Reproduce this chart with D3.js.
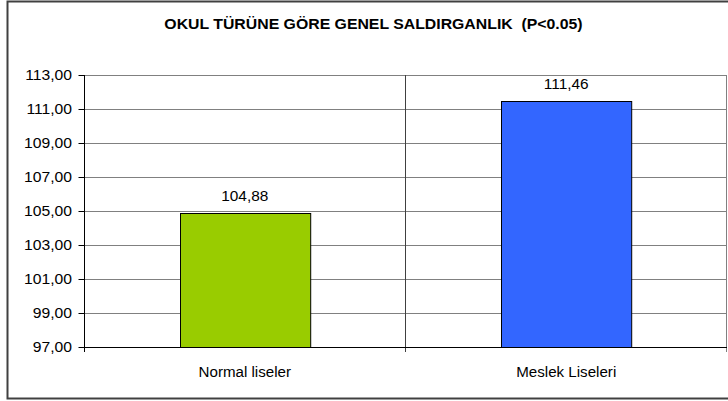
<!DOCTYPE html>
<html>
<head>
<meta charset="utf-8">
<script src="https://cdn.jsdelivr.net/npm/d3@7"></script>
<style>
  html, body { margin: 0; padding: 0; background: #fff; }
  svg { display: block; font-family: "Liberation Sans", Arial, sans-serif; }
  text { white-space: pre; }
</style>
</head>
<body>
<svg id="chart" width="728" height="401"></svg>
<script>
const title = "OKUL TÜRÜNE GÖRE GENEL SALDIRGANLIK  (P<0.05)";
const categories = ["Normal liseler", "Meslek Liseleri"];
const values = [104.88, 111.46];
const colors = ["#99CC00", "#3366FF"];
const yTicks = [97, 99, 101, 103, 105, 107, 109, 111, 113];
const yDomain = [97, 113];

const svg = d3.select("#chart");
const plot = { left: 84, right: 727, top: 75, bottom: 347 };

const fmt = v => d3.format(".2f")(v).replace(".", ",");
// the reference text is slightly stretched horizontally
function stretch(sel, k) {
  sel.each(function () {
    const len = this.getComputedTextLength();
    d3.select(this).attr("textLength", len * k).attr("lengthAdjust", "spacingAndGlyphs");
  });
}

// outer border
svg.append("rect")
  .attr("x", 7.5).attr("y", 1.5)
  .attr("width", 724).attr("height", 397)
  .attr("fill", "#fff").attr("stroke", "#404040").attr("stroke-width", 2);

const x = d3.scaleBand().domain(categories)
  .range([plot.left, plot.right])
  .paddingInner(0.595).paddingOuter(0.2975);
const xFull = d3.scaleBand().domain(categories).range([plot.left, plot.right]).padding(0);
const y = d3.scaleLinear().domain(yDomain).range([plot.bottom, plot.top]);

// gridlines
svg.append("g").selectAll("line").data(yTicks.slice(1)).join("line")
  .attr("x1", plot.left).attr("x2", plot.right)
  .attr("y1", d => Math.round(y(d)) + 0.5).attr("y2", d => Math.round(y(d)) + 0.5)
  .attr("stroke", "#808080").attr("stroke-width", 1);

// category separators (incl. right border) with tick below axis
const sepX = [xFull.range()[0], ...categories.slice(1).map(c => xFull(c)), xFull.range()[1]];
svg.append("g").selectAll("line").data(sepX.slice(1)).join("line")
  .attr("x1", d => Math.round(d) - 0.5).attr("x2", d => Math.round(d) - 0.5)
  .attr("y1", plot.top).attr("y2", plot.bottom + 5)
  .attr("stroke", (d, i) => i === sepX.length - 2 ? "#808080" : "#404040")
  .attr("stroke-width", 1);

// bars
svg.append("g").selectAll("rect").data(values).join("rect")
  .attr("x", (d, i) => Math.round(x(categories[i])) + 0.5)
  .attr("y", d => Math.round(y(d)) + 0.5)
  .attr("width", x.bandwidth())
  .attr("height", d => Math.round(y(yDomain[0])) - Math.round(y(d)))
  .attr("fill", (d, i) => colors[i])
  .attr("stroke", "#000").attr("stroke-width", 1);

// value labels
svg.append("g").selectAll("text").data(values).join("text")
  .attr("x", (d, i) => x(categories[i]) + x.bandwidth() / 2)
  .attr("y", d => y(d) - 12.5)
  .attr("text-anchor", "middle")
  .attr("font-size", 14)
  .attr("fill", "#000")
  .text(d => fmt(d))
  .call(stretch, 1.1);

// y axis
const yAxis = d3.axisLeft(y).tickValues(yTicks).tickSize(6).tickPadding(6.5).tickFormat(fmt);
const gy = svg.append("g").attr("transform", `translate(${plot.left + 0.5},0)`).call(yAxis);
gy.select(".domain").remove();
gy.selectAll(".tick line").attr("stroke", "#000");
gy.selectAll(".tick text").attr("font-size", 14).attr("font-family", "Liberation Sans, Arial, sans-serif").attr("fill", "#000")
  .call(stretch, 1.12);
svg.append("line")
  .attr("x1", plot.left + 0.5).attr("x2", plot.left + 0.5)
  .attr("y1", plot.top).attr("y2", plot.bottom + 5)
  .attr("stroke", "#000");

// x axis line
svg.append("line")
  .attr("x1", plot.left).attr("x2", plot.right)
  .attr("y1", plot.bottom + 0.5).attr("y2", plot.bottom + 0.5)
  .attr("stroke", "#000");

// category labels
const xAxis = d3.axisBottom(xFull).tickSize(0).tickPadding(0);
const gx = svg.append("g").attr("transform", `translate(0,${plot.bottom})`).call(xAxis);
gx.select(".domain").remove();
gx.selectAll(".tick text")
  .attr("dy", null).attr("y", 30)
  .attr("font-size", 14).attr("font-family", "Liberation Sans, Arial, sans-serif").attr("fill", "#000")
  .call(stretch, 1.08);

// title
svg.append("text")
  .attr("x", 373.5).attr("y", 29)
  .attr("text-anchor", "middle")
  .attr("font-size", 14).attr("font-weight", "bold")
  .attr("fill", "#000")
  .text(title)
  .call(stretch, 1.13);
</script>
</body>
</html>
